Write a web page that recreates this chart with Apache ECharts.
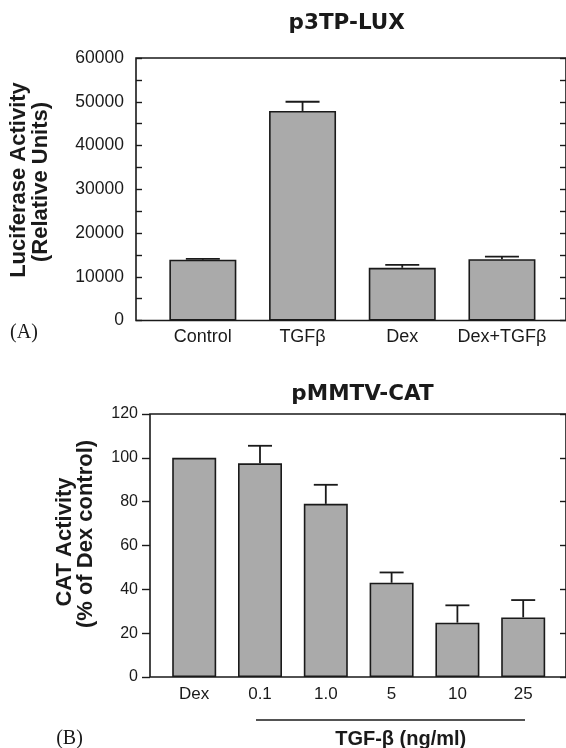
<!DOCTYPE html>
<html>
<head>
<meta charset="utf-8">
<script src="https://cdn.jsdelivr.net/npm/echarts@6/dist/echarts.min.js"></script>
<style>
html,body{margin:0;padding:0;background:#fff;}
#c{width:566px;height:748px;}
</style>
</head>
<body>
<div id="c"></div>
<script>
// Panel A data
const catsA = ['Control', 'TGFβ', 'Dex', 'Dex+TGFβ'];
const valsA = [13900, 47900, 12050, 14000];
const errA = [200, 2100, 650, 600];
const ticksA = [0, 10000, 20000, 30000, 40000, 50000, 60000];

// Panel B data
const catsB = ['Dex', '0.1', '1.0', '5', '10', '25'];
const valsB = [100, 97.5, 79, 43, 24.8, 27.2];
const errB = [0, 8, 8.7, 4.7, 7.9, 7.9];
const ticksB = [0, 20, 40, 60, 80, 100, 120];

const FONT = 'Liberation Sans, Arial, Helvetica, sans-serif';
const INK = '#1a1a1a';
const chart = echarts.init(document.getElementById('c'), null, {renderer: 'canvas'});

function errRender(capHalf) {
  return function (params, api) {
    const i = api.value(0), m = api.value(1), e = api.value(2);
    if (!e) return null;
    const b = api.coord([i, m]);
    const t = api.coord([i, m + e]);
    const st = {stroke: INK, lineWidth: 1.8};
    return {type: 'group', children: [
      {type: 'line', shape: {x1: b[0], y1: b[1], x2: t[0], y2: t[1]}, style: st},
      {type: 'line', shape: {x1: t[0] - capHalf, y1: t[1], x2: t[0] + capHalf, y2: t[1]}, style: st}
    ]};
  };
}

const frameGrid = (left, top, height) => ({left: left, top: top, width: 568 - left, height: height,
  show: true, borderColor: INK, borderWidth: 1.6, backgroundColor: 'transparent'});
const plain = v => String(v);

const option = {
  animation: false,
  backgroundColor: '#fff',
  grid: [
    frameGrid(136, 58, 262.5),                      // 0 A frame
    {left: 153, top: 58, width: 398.8, height: 262.5}, // 1 A bars
    frameGrid(150, 414, 263),                       // 2 B frame
    {left: 161.3, top: 414, width: 394.8, height: 263}  // 3 B bars
  ],
  xAxis: [
    {gridIndex: 0, type: 'value', min: 0, max: 1, show: false},
    {gridIndex: 1, type: 'category', data: catsA, axisLine: {show: false}, axisTick: {show: false},
      axisLabel: {fontFamily: FONT, fontSize: 18, color: INK, margin: 7.5, lineHeight: 18, interval: 0}},
    {gridIndex: 2, type: 'value', min: 0, max: 1, show: false},
    {gridIndex: 3, type: 'category', data: catsB, axisLine: {show: false}, axisTick: {show: false},
      axisLabel: {fontFamily: FONT, fontSize: 17, color: INK, margin: 8.5, lineHeight: 17, interval: 0}}
  ],
  yAxis: [
    {gridIndex: 0, type: 'value', min: ticksA[0], max: ticksA[ticksA.length - 1], interval: 10000,
      axisLine: {show: false}, splitLine: {show: false},
      axisTick: {show: true, inside: true, length: 6, lineStyle: {color: INK, width: 1.4}},
      minorTick: {show: true, splitNumber: 2, length: 6, lineStyle: {color: INK, width: 1.4}},
      axisLabel: {fontFamily: FONT, fontSize: 17.5, color: INK, margin: 12, formatter: plain}},
    {gridIndex: 0, type: 'value', position: 'right', min: ticksA[0], max: ticksA[ticksA.length - 1], interval: 10000,
      axisLine: {show: false}, splitLine: {show: false}, axisLabel: {show: false},
      axisTick: {show: true, inside: true, length: 6, lineStyle: {color: INK, width: 1.4}},
      minorTick: {show: true, splitNumber: 2, length: 6, lineStyle: {color: INK, width: 1.4}}},
    {gridIndex: 1, type: 'value', min: ticksA[0], max: ticksA[ticksA.length - 1], show: false},
    {gridIndex: 2, type: 'value', min: ticksB[0], max: ticksB[ticksB.length - 1], interval: 20,
      axisLine: {show: false}, splitLine: {show: false},
      axisTick: {show: true, inside: false, length: 8, lineStyle: {color: INK, width: 1.4}},
      axisLabel: {fontFamily: FONT, fontSize: 16, color: INK, margin: 12, formatter: plain}},
    {gridIndex: 2, type: 'value', position: 'right', min: ticksB[0], max: ticksB[ticksB.length - 1], interval: 20,
      axisLine: {show: false}, splitLine: {show: false}, axisLabel: {show: false},
      axisTick: {show: true, inside: true, length: 6, lineStyle: {color: INK, width: 1.4}}},
    {gridIndex: 3, type: 'value', min: ticksB[0], max: ticksB[ticksB.length - 1], show: false}
  ],
  series: [
    {type: 'bar', xAxisIndex: 1, yAxisIndex: 2, data: valsA, barWidth: 67,
      itemStyle: {color: '#aaaaaa', borderColor: INK, borderWidth: 1.6}, z: 2},
    {type: 'custom', xAxisIndex: 1, yAxisIndex: 2, renderItem: errRender(17),
      data: valsA.map((v, i) => [i, v, errA[i]]), z: 3},
    {type: 'bar', xAxisIndex: 3, yAxisIndex: 5, data: valsB, barWidth: 44,
      itemStyle: {color: '#aaaaaa', borderColor: INK, borderWidth: 1.6}, z: 2},
    {type: 'custom', xAxisIndex: 3, yAxisIndex: 5, renderItem: errRender(12),
      data: valsB.map((v, i) => [i, v, errB[i]]), z: 3}
  ],
  graphic: [
    {type: 'text', x: 346.7, y: 23.5, style: {text: 'p3TP-LUX', fontFamily: 'DejaVu Sans', fontWeight: 'bold', fontSize: 21.5, fill: INK, textAlign: 'center', textVerticalAlign: 'middle', verticalAlign: 'middle'}},
    {type: 'text', x: 19, y: 180, rotation: Math.PI / 2, style: {text: 'Luciferase Activity', fontFamily: FONT, fontWeight: 'bold', fontSize: 22, fill: INK, textAlign: 'center', textVerticalAlign: 'middle', verticalAlign: 'middle'}},
    {type: 'text', x: 41, y: 182, rotation: Math.PI / 2, style: {text: '(Relative Units)', fontFamily: FONT, fontWeight: 'bold', fontSize: 22, fill: INK, textAlign: 'center', textVerticalAlign: 'middle', verticalAlign: 'middle'}},
    {type: 'text', x: 24, y: 333, style: {text: '(A)', fontFamily: 'Liberation Serif, Times New Roman, serif', fontSize: 20, fill: INK, textAlign: 'center', textVerticalAlign: 'middle', verticalAlign: 'middle'}},

    {type: 'text', x: 362.5, y: 394, style: {text: 'pMMTV-CAT', fontFamily: 'DejaVu Sans', fontWeight: 'bold', fontSize: 21.5, fill: INK, textAlign: 'center', textVerticalAlign: 'middle', verticalAlign: 'middle'}},
    {type: 'text', x: 64.5, y: 542, rotation: Math.PI / 2, style: {text: 'CAT Activity', fontFamily: FONT, fontWeight: 'bold', fontSize: 22, fill: INK, textAlign: 'center', textVerticalAlign: 'middle', verticalAlign: 'middle'}},
    {type: 'text', x: 85.5, y: 534, rotation: Math.PI / 2, style: {text: '(% of Dex control)', fontFamily: FONT, fontWeight: 'bold', fontSize: 22, fill: INK, textAlign: 'center', textVerticalAlign: 'middle', verticalAlign: 'middle'}},
    {type: 'line', shape: {x1: 256, y1: 720, x2: 525, y2: 720}, style: {stroke: INK, lineWidth: 1.6}},
    {type: 'text', x: 400.7, y: 739, style: {text: 'TGF-β (ng/ml)', fontFamily: FONT, fontWeight: 'bold', fontSize: 20, fill: INK, textAlign: 'center', textVerticalAlign: 'middle', verticalAlign: 'middle'}},
    {type: 'text', x: 69.5, y: 739, style: {text: '(B)', fontFamily: 'Liberation Serif, Times New Roman, serif', fontSize: 20, fill: INK, textAlign: 'center', textVerticalAlign: 'middle', verticalAlign: 'middle'}}
  ]
};
chart.setOption(option);
</script>
</body>
</html>
